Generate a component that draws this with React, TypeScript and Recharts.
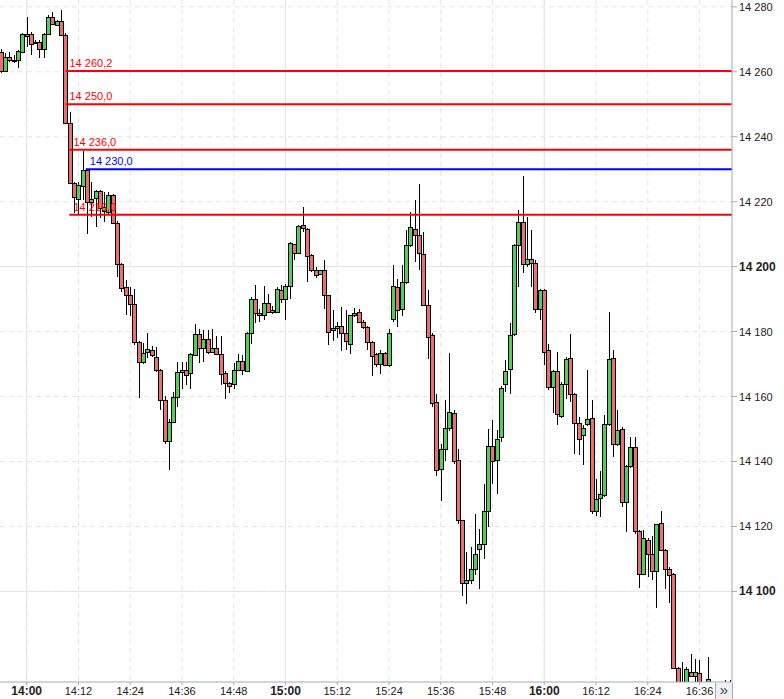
import { ComposedChart, Bar, XAxis, YAxis, CartesianGrid, ReferenceLine } from "recharts";

// minute offset (from 14:00) of the first candle
const firstMinute = -6;

// OHLC, one candle per minute
const opens = [
  14266, 14260.3, 14264.6, 14263.6, 14263.5, 14266.2, 14271.6, 14271.6, 14269, 14269.3,
  14266.9, 14271.6, 14277, 14274.4, 14275.7, 14271.3, 14244.1, 14225.8, 14220.7, 14224.8,
  14229.7, 14220, 14221, 14223.2, 14217, 14216.9, 14222, 14213.5, 14200.9, 14193.7,
  14191.4, 14188.4, 14176.8, 14170.6, 14173.7, 14174.4, 14172.2, 14168.3, 14159, 14146.2,
  14152.1, 14159.8, 14167.7, 14168.3, 14167.2, 14172.7, 14179.3, 14175, 14177.8, 14173.7,
  14175, 14173.2, 14167.2, 14164.1, 14164, 14168.3, 14170.9, 14167.9, 14179.6, 14189.9,
  14185.6, 14185.1, 14188.9, 14186.1, 14186.1, 14192.8, 14189.9, 14194, 14206.9, 14204.3,
  14212.8, 14211.5, 14203.6, 14199, 14197.7, 14199, 14191.2, 14180.4, 14181, 14181.7,
  14179.6, 14176.3, 14185, 14186, 14183, 14181.4, 14176.8, 14173, 14170.1, 14173.4,
  14169.8, 14184, 14193.7, 14187, 14195.3, 14206.6, 14211.7, 14209.7, 14203.8, 14188.3,
  14179.1, 14158.3, 14137.8, 14143.9, 14150.4, 14155, 14140.6, 14121.9, 14102.6, 14103.4,
  14107, 14113.1, 14114.5, 14124.9, 14144.8, 14140.4, 14147.5, 14164, 14168.6, 14179.2,
  14206.6, 14213.8, 14200.7, 14202.5, 14201.2, 14187.1, 14192.7, 14174.4, 14163, 14167.9,
  14153.9, 14164, 14172, 14160.9, 14151.8, 14148.1, 14151.6, 14153.5, 14124.7, 14128.8,
  14129.6, 14151.4, 14172, 14145.3, 14150.1, 14127.5, 14138.5, 14144.6, 14118.6, 14105.4,
  14115.9, 14111.4, 14106.2, 14121, 14112.8, 14107, 14105.4, 14076.4, 14071.8, 14070,
  14075.1, 14074.1, 14074.8, 14071.5, 14071, 14071, 14071, 14071, 14071, 14071,
];
const highs = [
  14267, 14265.9, 14266.2, 14265.1, 14266.7, 14271.8, 14277, 14272.3, 14269.8, 14269.8,
  14271.8, 14277.5, 14278.5, 14276, 14279, 14272, 14247.7, 14226, 14226.1, 14235.7,
  14230.2, 14226.1, 14223.5, 14223.5, 14223, 14222.9, 14222.3, 14214, 14201.2, 14196,
  14193.7, 14193.2, 14177.2, 14176.5, 14179.7, 14175.7, 14175.2, 14168.5, 14160.3, 14153,
  14161.4, 14170.6, 14170.6, 14170.6, 14173.5, 14182.4, 14180.9, 14180.6, 14180.4, 14180.9,
  14178.5, 14178.5, 14168, 14164.5, 14170.4, 14173, 14172.7, 14180, 14190.5, 14194.3,
  14187, 14194, 14191.7, 14188, 14193.8, 14194.3, 14194.5, 14207.5, 14207.1, 14212.8,
  14218.4, 14211.8, 14203.8, 14200, 14199.1, 14202, 14191.4, 14186.6, 14183, 14187.6,
  14186.6, 14185.2, 14187.3, 14187, 14183.5, 14181.8, 14177.2, 14173.5, 14174.4, 14173.8,
  14180.9, 14200.4, 14196.3, 14200.4, 14211.2, 14216.8, 14220.4, 14225.4, 14210.7, 14192.7,
  14179.5, 14160.9, 14145.5, 14158.8, 14173.4, 14156, 14143.9, 14122, 14112.1, 14113.8,
  14123.9, 14119.3, 14133, 14150, 14152.7, 14149.6, 14163.1, 14171.2, 14182.5, 14207.1,
  14217.4, 14227.8, 14215.3, 14211.2, 14202, 14193, 14193, 14176.3, 14168.3, 14173.7,
  14164.5, 14172.2, 14179.2, 14161.2, 14153.7, 14151.1, 14168.3, 14158.8, 14134.7, 14137.1,
  14154.2, 14186.1, 14174.4, 14155.8, 14150.5, 14138.8, 14147.5, 14147.5, 14119, 14118.8,
  14116.3, 14117.2, 14120.9, 14124.9, 14113.2, 14107.4, 14105.8, 14076.8, 14078.2, 14076.6,
  14080.8, 14079.2, 14078.9, 14071.8, 14079.7, 14071.5, 14071.5, 14071.5, 14072.8, 14072.8,
];
const lows = [
  14259.5, 14259.8, 14263.1, 14262.8, 14261.3, 14265.9, 14267.7, 14265.1, 14268.5, 14264.1,
  14264.1, 14271.3, 14274.4, 14274, 14271, 14244, 14225.5, 14216.4, 14215.8, 14220.5,
  14210.2, 14215.3, 14212.3, 14215, 14213.8, 14216.3, 14213.3, 14196.8, 14192.2, 14185,
  14184.7, 14175.8, 14159.6, 14169.9, 14172, 14172.2, 14167.5, 14155.7, 14145.4, 14137.4,
  14151.8, 14156.7, 14162.4, 14163.7, 14162.4, 14172.4, 14170.3, 14170.6, 14173.2, 14173.5,
  14172.7, 14163.4, 14159.3, 14161.1, 14162.4, 14167.9, 14166.6, 14167.5, 14176.3, 14182.7,
  14183, 14183.5, 14185.6, 14185.5, 14185.6, 14188.7, 14183.5, 14189.9, 14202, 14204.1,
  14210.7, 14195.3, 14198.4, 14196.4, 14197.4, 14187.1, 14175.8, 14177, 14178, 14174,
  14174.3, 14173.2, 14184.5, 14182.5, 14180.8, 14174.2, 14166.2, 14169, 14167, 14169.3,
  14169.1, 14183, 14181.4, 14184.7, 14194.8, 14206, 14201.4, 14199.1, 14188, 14171.6,
  14156.8, 14135.4, 14127.8, 14140, 14149.5, 14139.1, 14120.6, 14098.7, 14096, 14102.3,
  14105, 14100.8, 14110, 14119.8, 14133.2, 14129.9, 14146, 14161.4, 14160.9, 14178.5,
  14193.8, 14198.1, 14200, 14193.8, 14185.7, 14183.5, 14169.6, 14162.1, 14155, 14151.1,
  14153.5, 14159.3, 14158.3, 14142.4, 14141.9, 14138.8, 14151, 14123.9, 14123.1, 14122.9,
  14129, 14151, 14141.4, 14144.8, 14126, 14118.3, 14138, 14117.7, 14101.1, 14104.9,
  14104.4, 14103.4, 14094.9, 14112.3, 14100.8, 14096.4, 14076, 14068, 14068, 14068,
  14073.5, 14072, 14068, 14068, 14068, 14068, 14068, 14068, 14068, 14068,
];
const closes = [
  14260.2, 14264.4, 14263.6, 14263.2, 14266.5, 14271.6, 14271, 14268.7, 14269.3, 14266.9,
  14271.6, 14277, 14274.7, 14275.7, 14271.3, 14244.3, 14225.8, 14221.5, 14225.1, 14229.9,
  14220, 14220.7, 14223.2, 14218, 14218.4, 14222, 14213.5, 14200.9, 14193.5, 14191.4,
  14188.4, 14176.8, 14170.6, 14173.4, 14174.7, 14172.9, 14168.3, 14158.8, 14146.2, 14152.3,
  14159.8, 14167.7, 14168.3, 14166.7, 14173, 14179.3, 14175, 14177.8, 14173.7, 14175,
  14173, 14167, 14164.1, 14163.2, 14168.3, 14170.9, 14168.1, 14179.6, 14189.9, 14185.8,
  14185, 14188.9, 14186.1, 14186.6, 14193, 14189.9, 14194, 14207.3, 14204.1, 14212.5,
  14211.8, 14203.2, 14199, 14197.4, 14199, 14191.2, 14179.9, 14181, 14181.8, 14179.6,
  14177.2, 14185, 14185.7, 14183, 14181.4, 14176.8, 14172.4, 14170.1, 14173.4, 14169.8,
  14179.6, 14194, 14186.7, 14195.3, 14206.6, 14212.2, 14209.7, 14204.2, 14188.3, 14178.3,
  14158, 14137.3, 14143.9, 14150.4, 14155.2, 14140.3, 14122.1, 14102.6, 14103.4, 14107,
  14111.6, 14114.7, 14124.9, 14144.8, 14140.3, 14147, 14162.7, 14167.9, 14178.9, 14206.6,
  14213.8, 14200.7, 14202.5, 14201.2, 14187.1, 14192.7, 14173.7, 14163, 14167.9, 14154.5,
  14164, 14171.7, 14160.9, 14151.8, 14147, 14150.4, 14153.2, 14124.7, 14128.5, 14130.1,
  14151.4, 14171.7, 14145.3, 14149.8, 14127.5, 14138.5, 14144.6, 14118.6, 14105.4, 14116.5,
  14111.4, 14106.2, 14120.6, 14112.8, 14107, 14105.2, 14076.4, 14070, 14071, 14076.1,
  14074.1, 14075.1, 14070, 14071, 14072.9, 14070.5, 14070.5, 14070.5, 14070.8, 14070.8,
];

// axes
const priceTicks = [14100, 14120, 14140, 14160, 14180, 14200, 14220, 14240, 14260, 14280];
const majorPrices = [14100, 14200];
const timeTicks = [0, 12, 24, 36, 48, 60, 72, 84, 96, 108, 120, 132, 144, 156];
const majorTimes = [0, 60, 120];

// horizontal levels drawn on the chart (value, label, minute where it starts)
const levels = [14260.2, 14250, 14236, 14230, 14216];
const levelLabels = ["14 260,2", "14 250,0", "14 236,0", "14 230,0", "14 216,0"];
const levelFrom = [9.0, 9.0, 9.9, 13.7, 9.9];

const candles = opens.map((o, i) => ({
  t: firstMinute + i,
  o,
  h: highs[i],
  l: lows[i],
  c: closes[i],
  range: [lows[i], highs[i]],
}));

const X_MIN = -6.19;
const X_MAX = 163.53;
const Y_MIN = 14072.1;
const Y_MAX = 14282.1;

const FONT = "'Liberation Sans', Arial, sans-serif";
const GREEN = "#52d052";
const RED = "#e8706e";
const AXIS = "#a3abb2";
const GRID = "#e4e4e4";

const fmtPrice = (v: number) =>
  `${Math.floor(v / 1000)} ${String(Math.round(v % 1000)).padStart(3, "0")}`;
const fmtTime = (m: number) =>
  `${14 + Math.floor(m / 60)}:${String(m % 60).padStart(2, "0")}`;

function Candle(props: any) {
  const { x, y, width, height, payload } = props;
  if (x == null || y == null || !payload) return null;
  const { o, h, l, c } = payload;
  const top = Math.min(y, y + height);
  const span = Math.abs(height);
  const ratio = h > l ? span / (h - l) : 0;
  const py = (v: number) => top + (h - v) * ratio;
  const cx = Math.round(x + width / 2);
  const bTop = Math.round(py(Math.max(o, c)));
  const bBot = Math.round(py(Math.min(o, c)));
  return (
    <g shapeRendering="crispEdges">
      <line x1={cx + 0.5} x2={cx + 0.5} y1={top} y2={top + span} stroke="#000" strokeWidth={1} />
      <rect
        x={cx - 1.5}
        y={bTop + 0.5}
        width={4}
        height={Math.max(bBot - bTop, 1)}
        fill={c >= o ? GREEN : RED}
        stroke="#000"
        strokeWidth={1}
      />
    </g>
  );
}

function PriceTick(props: any) {
  const { x, y, payload } = props;
  const major = majorPrices.includes(payload.value);
  return (
    <text
      x={x}
      y={y}
      dy={4}
      textAnchor="start"
      fontFamily={FONT}
      fontSize={major ? 12 : 11}
      fontWeight={major ? 700 : 400}
      fill="#222"
    >
      {fmtPrice(payload.value)}
    </text>
  );
}

function TimeTick(props: any) {
  const { x, y, payload } = props;
  const major = majorTimes.includes(payload.value);
  return (
    <text
      x={x}
      y={y}
      dy={10}
      textAnchor="middle"
      fontFamily={FONT}
      fontSize={major ? 12 : 11}
      fontWeight={major ? 700 : 400}
      fill="#222"
    >
      {fmtTime(payload.value)}
    </text>
  );
}

export default function App() {
  return (
    <div style={{ position: "absolute", left: 0, top: 0, width: 784, height: 699, background: "#fff" }}>
      <ComposedChart
        width={784}
        height={699}
        data={candles}
        margin={{ top: 0, right: 0, bottom: 0, left: 0 }}
      >
        <CartesianGrid
          stroke={GRID}
          strokeDasharray="5 4"
          horizontalValues={priceTicks}
          verticalValues={timeTicks}
        />
        <CartesianGrid
          stroke={GRID}
          horizontalValues={majorPrices}
          verticalValues={majorTimes}
        />
        <XAxis
          dataKey="t"
          type="number"
          domain={[X_MIN, X_MAX]}
          allowDataOverflow
          ticks={timeTicks}
          interval={0}
          height={17}
          tickSize={3}
          tickMargin={0}
          tickLine={{ stroke: AXIS }}
          axisLine={{ stroke: AXIS }}
          tick={<TimeTick />}
        />
        <YAxis
          orientation="right"
          type="number"
          domain={[Y_MIN, Y_MAX]}
          allowDataOverflow
          ticks={priceTicks}
          interval={0}
          width={52}
          tickSize={5}
          tickMargin={2}
          tickLine={{ stroke: AXIS }}
          axisLine={{ stroke: AXIS }}
          tick={<PriceTick />}
        />
        {levels.map((v, i) => {
          const color = v === 14230 ? "#0000ff" : "#ff0000";
          return (
            <ReferenceLine
              key={`lvl-${i}`}
              segment={[
                { x: levelFrom[i], y: v },
                { x: X_MAX, y: v },
              ]}
              stroke={color}
              strokeWidth={2}
              label={(p: any) => (
                <text
                  x={(p.viewBox?.x ?? 0) + 4}
                  y={(p.viewBox?.y ?? 0) - 4}
                  fontFamily={FONT}
                  fontSize={11}
                  fill={color}
                >
                  {levelLabels[i]}
                </text>
              )}
            />
          );
        })}
        <Bar
          dataKey="range"
          barSize={4}
          shape={<Candle />}
          isAnimationActive={false}
        />
      </ComposedChart>
      <div
        style={{
          position: "absolute",
          left: 715,
          top: 683,
          width: 16,
          height: 16,
          borderLeft: `1px solid ${AXIS}`,
          borderRight: `1px solid ${AXIS}`,
          background: "#eef0f2",
          color: "#444",
          fontFamily: FONT,
          fontSize: 15,
          lineHeight: "14px",
          textAlign: "center",
        }}
      >
        »
      </div>
    </div>
  );
}
